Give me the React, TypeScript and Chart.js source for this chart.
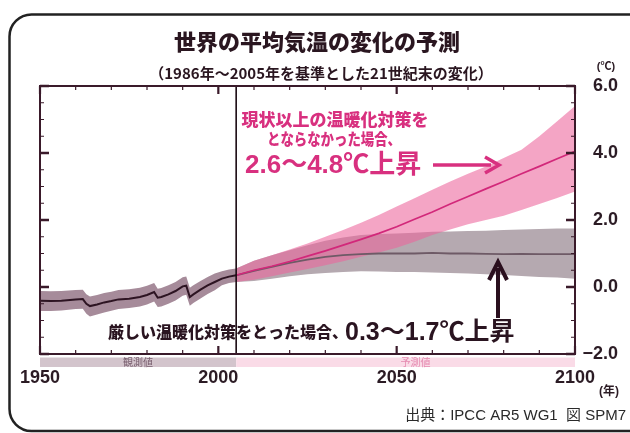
import React, { useEffect, useRef } from 'react';
import { Chart, registerables } from 'chart.js';

Chart.register(...registerables);

// ---- data ----
const histYears = [1950, 1953, 1956, 1960, 1962, 1963, 1964, 1966, 1968, 1970, 1972, 1975, 1978, 1980, 1982, 1983, 1984, 1986, 1988, 1990, 1991, 1992, 1993, 1995, 1997, 1999, 2001, 2003, 2005];
const histMean = [-0.41, -0.42, -0.41, -0.37, -0.36, -0.50, -0.57, -0.52, -0.46, -0.42, -0.37, -0.35, -0.30, -0.24, -0.15, -0.32, -0.30, -0.22, -0.12, 0.02, 0.04, -0.30, -0.22, -0.08, 0.05, 0.15, 0.25, 0.31, 0.35];
const histLow = [-0.72, -0.72, -0.70, -0.66, -0.65, -0.80, -0.88, -0.82, -0.76, -0.71, -0.66, -0.63, -0.58, -0.52, -0.43, -0.60, -0.58, -0.50, -0.40, -0.26, -0.23, -0.56, -0.48, -0.34, -0.21, -0.10, 0.05, 0.12, 0.15];
const histHigh = [-0.12, -0.13, -0.12, -0.09, -0.08, -0.22, -0.28, -0.24, -0.18, -0.14, -0.09, -0.07, -0.02, 0.04, 0.12, -0.05, -0.03, 0.05, 0.15, 0.29, 0.31, -0.02, 0.05, 0.18, 0.30, 0.40, 0.47, 0.52, 0.55];

const futYears = [2005, 2010, 2015, 2020, 2025, 2030, 2035, 2040, 2045, 2050, 2055, 2060, 2065, 2070, 2075, 2080, 2085, 2090, 2095, 2100];
const highMean = [0.35, 0.50, 0.62, 0.76, 0.92, 1.08, 1.25, 1.42, 1.60, 1.80, 2.02, 2.24, 2.48, 2.70, 2.93, 3.15, 3.38, 3.60, 3.83, 4.05];
const highLow = [0.15, 0.22, 0.32, 0.43, 0.54, 0.65, 0.77, 0.90, 1.03, 1.17, 1.35, 1.55, 1.72, 1.87, 2.00, 2.13, 2.30, 2.48, 2.66, 2.85];
const highHigh = [0.55, 0.78, 0.95, 1.12, 1.30, 1.50, 1.70, 1.92, 2.15, 2.40, 2.65, 2.90, 3.15, 3.38, 3.60, 3.85, 4.10, 4.50, 4.95, 5.40];
const lowMean = [0.35, 0.48, 0.60, 0.72, 0.82, 0.90, 0.95, 0.98, 1.00, 1.00, 1.00, 1.02, 1.00, 1.00, 0.99, 0.98, 0.99, 0.98, 0.98, 0.98];
const lowLow = [0.15, 0.18, 0.25, 0.32, 0.38, 0.42, 0.45, 0.47, 0.46, 0.45, 0.45, 0.43, 0.42, 0.40, 0.38, 0.36, 0.33, 0.30, 0.28, 0.25];
const lowHigh = [0.55, 0.78, 0.95, 1.10, 1.25, 1.38, 1.48, 1.55, 1.58, 1.60, 1.62, 1.65, 1.66, 1.67, 1.68, 1.70, 1.72, 1.73, 1.75, 1.75];

const xMin = 1950;
const xMax = 2100;
const xLabelStep = 50;
const xMinorStep = 10;
const yMin = -2;
const yMax = 6;
const yLabelStep = 2;
const yMinorStep = 0.5;
const splitYear = 2005;

const JP = "'Noto Sans CJK JP', sans-serif";
const MIX = "'Liberation Sans', 'Noto Sans CJK JP', sans-serif";

function pts(xs: number[], ys: number[]) {
  return xs.map((x, i) => ({ x, y: ys[i] }));
}

const decor = {
  id: 'decor',
  beforeDraw(chart: any) {
    const { ctx, width, height } = chart;
    ctx.save();
    ctx.fillStyle = '#ffffff';
    ctx.fillRect(0, 0, width, height);
    ctx.restore();
  },
  afterDatasetsDraw(chart: any) {
    const { ctx, chartArea: a, scales } = chart;
    const x = scales.x;
    const y = scales.y;
    ctx.save();
    const dark = '#3a1a2a';
    const sx = x.getPixelForValue(splitYear);
    ctx.strokeStyle = '#1a0a12';
    ctx.lineWidth = 1.6;
    ctx.beginPath();
    ctx.moveTo(sx, a.top);
    ctx.lineTo(sx, a.bottom);
    ctx.stroke();
    ctx.strokeStyle = dark;
    for (let yr = xMin; yr <= xMax; yr += xMinorStep) {
      const px = x.getPixelForValue(yr);
      const major = (yr - xMin) % xLabelStep === 0;
      const len = major ? 8 : 4;
      ctx.lineWidth = major ? 2.2 : 1.2;
      ctx.beginPath();
      ctx.moveTo(px, a.top);
      ctx.lineTo(px, a.top + len);
      ctx.moveTo(px, a.bottom);
      ctx.lineTo(px, a.bottom - len);
      ctx.stroke();
    }
    for (let v = yMin; v <= yMax + 1e-9; v += yMinorStep) {
      const py = y.getPixelForValue(v);
      const major = Math.abs((v - yMin) % yLabelStep) < 1e-9;
      const len = major ? 9 : 4;
      ctx.lineWidth = major ? 2.4 : 1.2;
      ctx.beginPath();
      ctx.moveTo(a.left, py);
      ctx.lineTo(a.left + len, py);
      ctx.moveTo(a.right, py);
      ctx.lineTo(a.right - len, py);
      ctx.stroke();
    }
    ctx.lineWidth = 2;
    ctx.strokeStyle = dark;
    ctx.strokeRect(a.left, a.top, a.right - a.left, a.bottom - a.top);
    ctx.restore();
  },
  afterDraw(chart: any) {
    const { ctx, chartArea: a, scales } = chart;
    const x = scales.x;
    ctx.save();
    ctx.strokeStyle = '#222222';
    ctx.lineWidth = 2.5;
    ctx.beginPath();
    (ctx as any).roundRect(9.5, 14.5, 645, 416.5, 22);
    ctx.stroke();

    const sx = x.getPixelForValue(splitYear);
    ctx.fillStyle = '#d3c4cc';
    ctx.fillRect(a.left, a.bottom + 3.5, sx - a.left, 9.5);
    ctx.fillStyle = '#fadbe7';
    ctx.fillRect(sx, a.bottom + 3.5, a.right - sx, 9.5);
    ctx.textAlign = 'center';
    ctx.textBaseline = 'middle';
    ctx.font = `10px ${JP}`;
    ctx.fillStyle = '#7a6070';
    ctx.fillText('観測値', (a.left + sx) / 2, a.bottom + 8.5);
    ctx.fillStyle = '#e58ab0';
    ctx.fillText('予測値', (sx + a.right) / 2 + 10, a.bottom + 8.5);

    ctx.fillStyle = '#2a1620';
    ctx.font = `900 22px ${JP}`;
    ctx.fillText('世界の平均気温の変化の予測', 317, 42);
    ctx.font = `bold 15px ${JP}`;
    ctx.fillText('（1986年～2005年を基準とした21世紀末の変化）', 321, 73);

    ctx.font = `bold 11px ${MIX}`;
    ctx.fillStyle = '#2b1b24';
    ctx.fillText('(℃)', 606, 67);
    ctx.font = `bold 12px ${MIX}`;
    ctx.fillText('(年)', 609, 392);

    const pink = '#d8307f';
    ctx.fillStyle = pink;
    ctx.font = `900 17px ${JP}`;
    ctx.fillText('現状以上の温暖化対策を', 335, 120);
    ctx.font = `900 16px ${JP}`;
    ctx.fillText('とならなかった場合、', 334, 139, 134);
    ctx.textAlign = 'left';
    ctx.font = `bold 26px ${MIX}`;
    ctx.fillText('2.6～4.8℃上昇', 245, 166, 183);
    const ay = 165;
    const ax0 = 433;
    const ax1 = 499;
    ctx.strokeStyle = pink;
    ctx.lineWidth = 3.5;
    ctx.beginPath();
    ctx.moveTo(ax0, ay);
    ctx.lineTo(ax1 - 8, ay);
    ctx.stroke();
    ctx.beginPath();
    ctx.moveTo(ax1 - 14, ay - 8);
    ctx.lineTo(ax1, ay);
    ctx.lineTo(ax1 - 14, ay + 8);
    ctx.lineJoin = 'miter';
    ctx.stroke();

    ctx.fillStyle = '#2a1420';
    ctx.textBaseline = 'alphabetic';
    ctx.font = `900 16px ${JP}`;
    ctx.fillText('厳しい温暖化対策をとった場合、', 108, 338);
    ctx.font = `bold 25px ${MIX}`;
    ctx.fillText('0.3～1.7℃上昇', 345, 340, 183);
    const bx = 498;
    ctx.strokeStyle = '#2a0f1e';
    ctx.lineWidth = 4;
    ctx.beginPath();
    ctx.moveTo(bx, 318);
    ctx.lineTo(bx, 268);
    ctx.stroke();
    ctx.beginPath();
    ctx.moveTo(bx - 9, 280);
    ctx.lineTo(bx, 262);
    ctx.lineTo(bx + 9, 280);
    ctx.stroke();

    ctx.textAlign = 'right';
    ctx.textBaseline = 'middle';
    ctx.fillStyle = '#2a2a2a';
    ctx.font = `15px ${MIX}`;
    ctx.fillText('出典：IPCC AR5 WG1  図 SPM7', 626, 416);
    ctx.restore();
  },
};

export default function App() {
  const ref = useRef<HTMLCanvasElement>(null);
  useEffect(() => {
    document.body.style.margin = '0';
    const canvas = ref.current;
    if (!canvas) return;
    const band = (data: any, color: string, order: number, fill: any) => ({
      data,
      borderColor: 'rgba(0,0,0,0)',
      borderWidth: 0,
      backgroundColor: color,
      pointRadius: 0,
      tension: 0,
      fill,
      order,
    });
    const chart = new Chart(canvas, {
      type: 'line',
      data: {
        datasets: [
          band(pts(futYears, lowLow), 'rgba(0,0,0,0)', 10, false),
          band(pts(futYears, lowHigh), '#b5a9b0', 10, '-1'),
          band(pts(histYears, histLow), 'rgba(0,0,0,0)', 10, false),
          band(pts(histYears, histHigh), '#a68b9a', 10, '-1'),
          band(pts(futYears, highLow), 'rgba(0,0,0,0)', 8, false),
          band(pts(futYears, highHigh), 'rgba(236,100,155,0.58)', 8, '-1'),
          {
            data: pts(futYears, lowMean),
            borderColor: '#6e5a66',
            borderWidth: 1.8,
            pointRadius: 0,
            fill: false,
            order: 5,
          },
          {
            data: pts(histYears, histMean),
            borderColor: '#2d1422',
            borderWidth: 2,
            pointRadius: 0,
            fill: false,
            order: 4,
          },
          {
            data: pts(futYears, highMean),
            borderColor: '#d2287a',
            borderWidth: 1.7,
            pointRadius: 0,
            fill: false,
            order: 3,
          },
        ] as any,
      },
      options: {
        animation: false,
        responsive: true,
        maintainAspectRatio: false,
        layout: { padding: { left: 40, top: 86, right: 12, bottom: 0 } },
        plugins: {
          legend: { display: false },
          tooltip: { enabled: false },
        },
        scales: {
          x: {
            type: 'linear',
            position: 'bottom',
            min: xMin,
            max: xMax,
            grid: { display: false, drawTicks: false },
            border: { display: false },
            ticks: {
              stepSize: xLabelStep,
              autoSkip: false,
              maxRotation: 0,
              padding: 13,
              color: '#2b1b24',
              font: { family: MIX, size: 18, weight: 'bold' },
              callback: (v: any) => String(v),
            },
            afterFit: (s: any) => {
              s.height = 79;
            },
          },
          y: {
            type: 'linear',
            position: 'right',
            min: yMin,
            max: yMax,
            grid: { display: false, drawTicks: false },
            border: { display: false },
            ticks: {
              stepSize: yLabelStep,
              crossAlign: 'far',
              padding: 8,
              color: '#2b1b24',
              font: { family: MIX, size: 18, weight: 'bold' },
              callback: (v: any) => (Number(v) < 0 ? '−' : '') + Math.abs(Number(v)).toFixed(1),
            },
            afterFit: (s: any) => {
              s.width = 43;
            },
          },
        } as any,
      },
      plugins: [decor],
    });
    return () => chart.destroy();
  }, []);
  return (
    <div style={{ width: 630, height: 433, position: 'relative' }}>
      <canvas ref={ref} />
    </div>
  );
}
